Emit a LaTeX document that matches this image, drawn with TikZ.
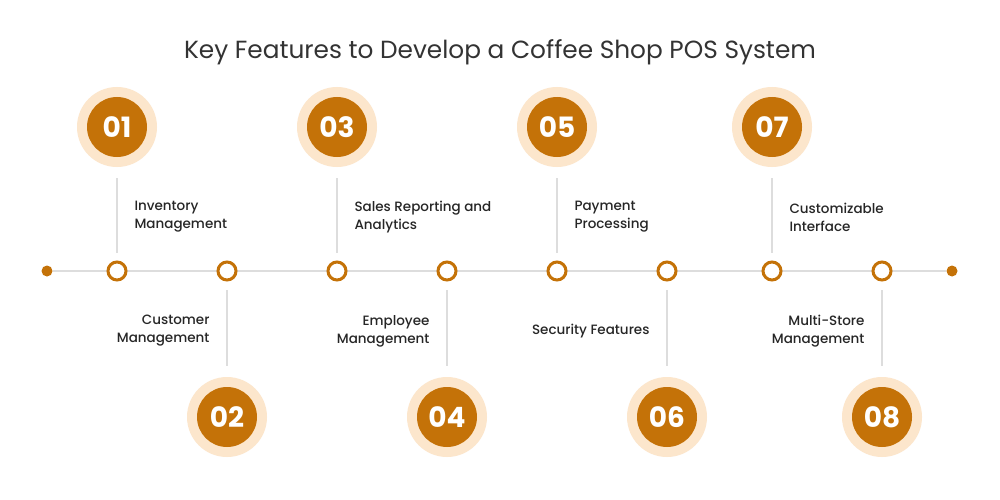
\documentclass[tikz,border=0pt]{standalone}
\usepackage{fontspec}
\setmainfont{Poppins}
\newfontfamily\medfont{Poppins Medium}
\begin{document}
\begin{tikzpicture}[x=1pt,y=-1pt,
  halo/.style={circle,fill=halocol,minimum size=80pt,inner sep=0pt},
  num/.style={circle,fill=dark,text=white,minimum size=60pt,inner sep=0pt,font=\fontsize{28}{28}\selectfont\bfseries},
  ring/.style={circle,draw=dark,line width=3pt,fill=white,minimum size=18pt,inner sep=0pt},
  enddot/.style={circle,fill=dark,minimum size=11pt,inner sep=0pt},
  stem/.style={draw=linegray,line width=1.5pt},
  lbl/.style={font=\medfont\fontsize{13.5}{18}\selectfont,text=black!85,align=left,anchor=west},
  lblr/.style={font=\medfont\fontsize{13.5}{18}\selectfont,text=black!85,align=right,anchor=east}]
\definecolor{dark}{HTML}{C47208}
\definecolor{halocol}{HTML}{FCE6CC}
\definecolor{linegray}{HTML}{DDDDDD}
\useasboundingbox[fill=white] (0,0) rectangle (1000,500);
\node (title) at (500,52) {\fontsize{24.8}{28}\selectfont\color{black!80}Key Features to Develop a Coffee Shop POS System};
\node[enddot] (L) at (47,271) {};
\node[enddot] (R) at (952,271) {};
\draw[stem] (L) -- (R);
\foreach \i/\x/\n in {1/117/01,3/337/03,5/557/05,7/772/07}{
  \node[halo] (h\i) at (\x,127) {};
  \node[num] (n\i) at (\x,127) {\n};
  \node[ring] (r\i) at (\x,271) {};
  \coordinate (a\i) at (\x,178);
  \coordinate (b\i) at (\x,253);
  \draw[stem] (a\i) -- (b\i);
}
\foreach \i/\x/\n in {2/227/02,4/447/04,6/667/06,8/882/08}{
  \node[halo] (h\i) at (\x,417) {};
  \node[num] (n\i) at (\x,417) {\n};
  \node[ring] (r\i) at (\x,271) {};
  \coordinate (a\i) at (\x,290);
  \coordinate (b\i) at (\x,366);
  \draw[stem] (a\i) -- (b\i);
}
\node[lbl] (t1) at (131,217) {Inventory\\Management};
\node[lbl] (t3) at (351,217) {Sales Reporting and\\Analytics};
\node[lbl] (t5) at (571,217) {Payment\\Processing};
\node[lbl] (t7) at (786,217) {Customizable\\Interface};
\node[lblr] (t2) at (213,331) {Customer\\Management};
\node[lblr] (t4) at (433,331) {Employee\\Management};
\node[lblr] (t6) at (653,331) {Security Features};
\node[lblr] (t8) at (868,331) {Multi-Store\\Management};
\end{tikzpicture}
\end{document}
